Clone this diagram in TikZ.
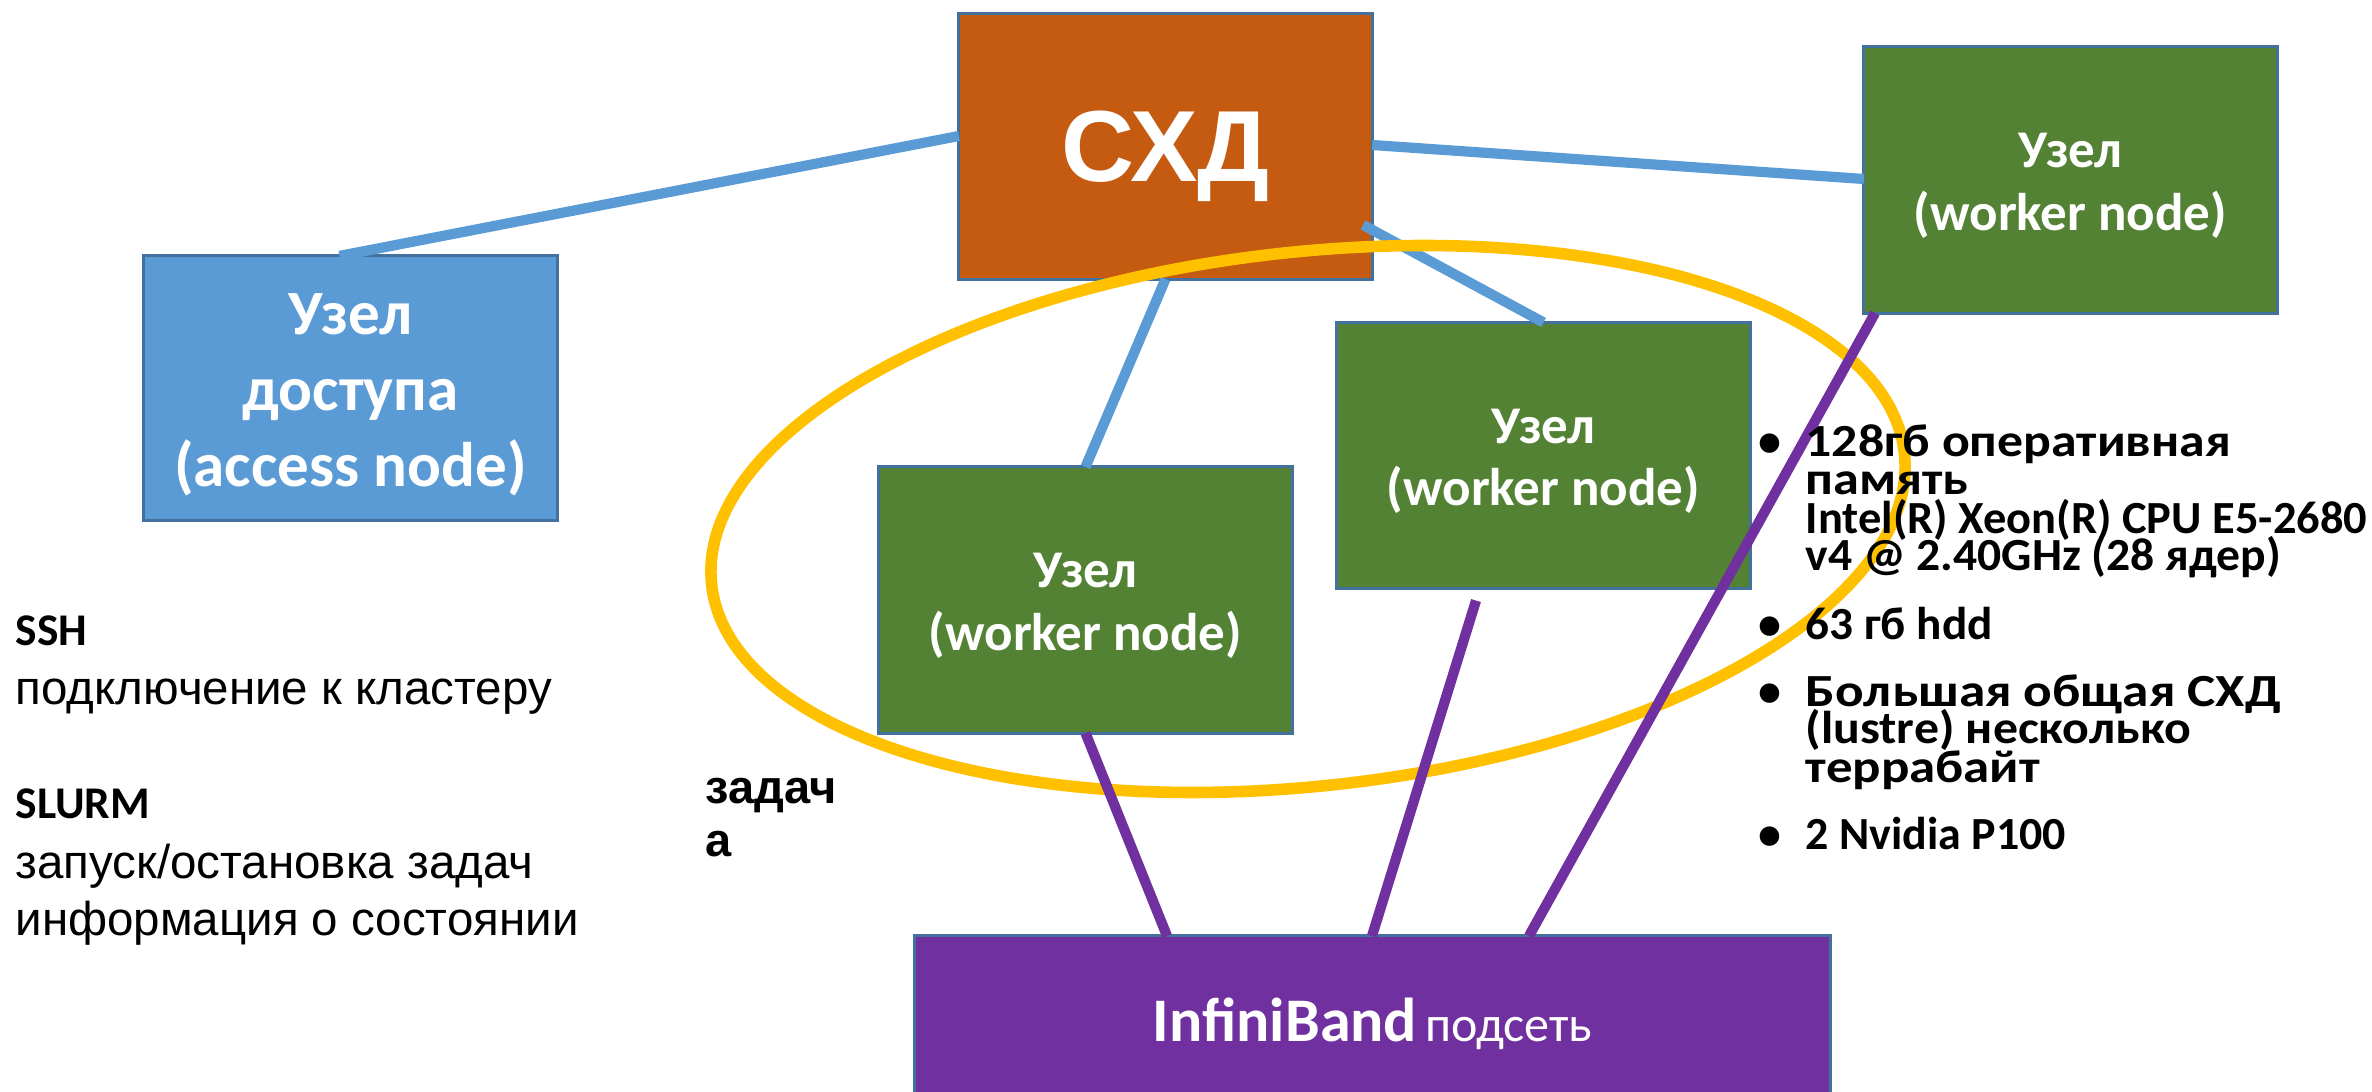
\documentclass[tikz,border=0pt]{standalone}
\usepackage{fontspec}
\usepackage{graphicx}
\setmainfont{Carlito}
\newfontfamily\arialfont{Liberation Sans}
\usetikzlibrary{calc}

\definecolor{storeorange}{HTML}{C55A11}
\definecolor{accessblue}{HTML}{5B9BD5}
\definecolor{workergreen}{HTML}{548235}
\definecolor{ibpurple}{HTML}{7030A0}
\definecolor{edgeblue}{HTML}{41719C}
\definecolor{taskyellow}{HTML}{FFC000}

% spec line set to a fixed width
\newcommand{\specfit}[2]{\resizebox{#1}{\height}{#2}}

\begin{document}
\begin{tikzpicture}[x=0.01cm, y=-0.01cm,
  box/.style={draw=edgeblue, line width=0.85pt, inner sep=0pt, outer sep=0pt},
  boxtext/.style={text=white, align=center, inner sep=0pt},
  worker/.style={box, fill=workergreen, minimum width=4.13cm, minimum height=2.66cm},
  workertext/.style={boxtext, font=\bfseries\fontsize{15.08}{17.8}\selectfont},
  storelink/.style={draw=accessblue, line width=2.9pt},
  iblink/.style={draw=ibpurple, line width=2.9pt},
  sidebold/.style={anchor=base west, inner sep=0pt, font=\bfseries\fontsize{12.9}{15}\selectfont},
  sideplain/.style={anchor=base west, inner sep=0pt, font=\arialfont\fontsize{13.5}{16}\selectfont},
  specline/.style={anchor=base west, inner sep=0pt, font=\bfseries\fontsize{13.09}{10.53}\selectfont},
  specdot/.style={anchor=base, inner sep=0pt, font=\bfseries\fontsize{13.09}{10.53}\selectfont},
]
\useasboundingbox (0,0) rectangle (2372,1092);
\clip (0,0) rectangle (2372,1092);

% storage, access node, worker nodes, interconnect
\node[box, fill=storeorange, minimum width=4.13cm, minimum height=2.65cm] (sxd) at (1165.5,146.5) {};
\node[box, fill=accessblue, minimum width=4.13cm, minimum height=2.64cm] (access) at (350.5,388) {};
\node[worker] (wtop) at (2070.5,180) {};
\node[worker] (wmid) at (1543.5,455.5) {};
\node[worker] (wleft) at (1085.5,600) {};
\node[box, fill=ibpurple, minimum width=9.15cm, minimum height=1.76cm] (ib) at (1372.5,1024) {};

% box captions
\node[boxtext, text depth=0pt, font=\arialfont\bfseries\fontsize{28.74}{32}\selectfont]
  (sxdtext) at (sxd.center) {СХД};
\node[boxtext, font=\bfseries\fontsize{17.93}{21.62}\selectfont]
  (accesstext) at ($(access.center)+(0,6.5)$) {Узел\\доступа\\(access node)};
\node[workertext] (wtoptext) at ($(wtop.center)+(0,6)$) {Узел\\(worker node)};
\node[workertext] (wmidtext) at ($(wmid.center)+(0,6)$) {Узел\\(worker node)};
\node[workertext] (wlefttext) at ($(wleft.center)+(0,6)$) {Узел\\(worker node)};
\node[boxtext] (ibtext) at (ib.center)
  {{\bfseries\fontsize{17.64}{20}\selectfont InfiniBand} {\fontsize{14.23}{17}\selectfont подсеть}};

% storage links
\draw[storelink] ($(sxd.west)+(0,-10.5)$) -- ($(access.north)+(-11,0)$);
\draw[storelink] ($(sxd.east)+(0,-1.5)$) -- ($(wtop.west)+(0,-1)$);
\draw[storelink] (sxd.south) -- (wleft.north);
\draw[storelink] ($(sxd.east)+(-9,78.5)$) -- (wmid.north);

% job allocation outline
\draw[taskyellow, line width=3.3pt, rotate around={6.3:(1308,519)}]
  (1308,519) ellipse [x radius=600, y radius=267];

% InfiniBand links
\draw[iblink] (wleft.south) -- ($(ib.north)+(-205.5,0)$);
\draw[iblink] ($(wmid.south)+(-67.5,12)$) -- ($(ib.north)+(-0.5,0)$);
\draw[iblink] ($(wtop.south)+(-195.5,0)$) -- ($(ib.north)+(156.5,0)$);

% access notes
\node[sidebold] (ssh) at (15,646) {SSH};
\node[sideplain] (sshnote) at (15,705) {подключение к кластеру};
\node[sidebold] (slurm) at (15,819) {SLURM};
\node[sideplain] (slurmnote1) at (15,879) {запуск/остановка задач};
\node[sideplain] (slurmnote2) at (15,936) {информация о состоянии};

% job label
\node[anchor=base west, inner sep=0pt, align=left,
  font=\arialfont\bfseries\fontsize{13.37}{15.1}\selectfont] (job) at (705,857) {задач\\а};

% node specification
\node[specdot] (dot1) at (1770,457) {•};
\node[specline] (spec1a) at (1805,457) {\specfit{4.25cm}{128гб оперативная}};
\node[specline] (spec1b) at (1805,495) {\specfit{1.63cm}{память}};
\node[specline] (spec1c) at (1805,534) {\specfit{5.61cm}{Intel(R) Xeon(R) CPU E5-2680}};
\node[specline] (spec1d) at (1805,571) {\specfit{4.75cm}{v4 @ 2.40GHz (28 ядер)}};
\node[specdot] (dot2) at (1770,640) {•};
\node[specline] (spec2) at (1805,640) {\specfit{1.87cm}{63 гб hdd}};
\node[specdot] (dot3) at (1770,707) {•};
\node[specline] (spec3a) at (1805,707) {\specfit{4.75cm}{Большая общая СХД}};
\node[specline] (spec3b) at (1805,744) {\specfit{3.85cm}{(lustre) несколько}};
\node[specline] (spec3c) at (1805,783) {\specfit{2.34cm}{террабайт}};
\node[specdot] (dot4) at (1770,850) {•};
\node[specline] (spec4) at (1805,850) {\specfit{2.6cm}{2 Nvidia P100}};
\end{tikzpicture}
\end{document}
